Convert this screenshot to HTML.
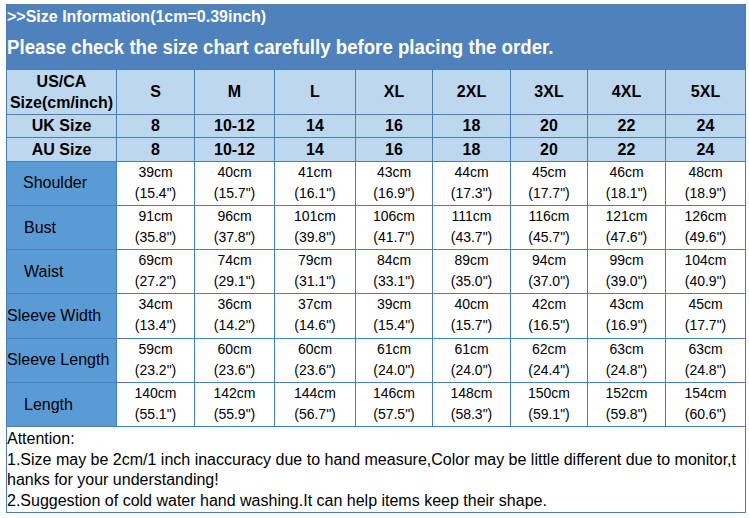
<!DOCTYPE html><html><head><meta charset="utf-8"><style>
*{margin:0;padding:0;box-sizing:border-box}
html,body{width:749px;height:518px;background:#fff;overflow:hidden}
body{position:relative;font-family:"Liberation Sans",sans-serif;color:#000}
.r{position:absolute}
.c{position:absolute;display:flex;align-items:center;justify-content:center;text-align:center;white-space:nowrap}
.b{font-weight:bold;font-size:16px}
.d{font-size:14px;line-height:20.5px;align-items:flex-start}
.l{position:absolute;font-size:16px;white-space:nowrap}
.t{position:absolute;font-size:16px;white-space:nowrap;line-height:20.5px}

</style></head><body>
<div class="r" style="left:6px;top:4px;width:740px;height:66px;background:#4f81bd"></div>
<div class="r b" style="left:7px;top:5px;color:#fff;line-height:24px">&gt;&gt;Size Information(1cm=0.39inch)</div>
<div class="r" style="left:7px;top:35px;color:#fff;font-weight:bold;font-size:18.67px;line-height:24px;transform:scaleY(1.07);transform-origin:0 0">Please check the size chart carefully before placing the order.</div>
<div class="r" style="left:6px;top:70px;width:740px;height:91px;background:#bdd7ee"></div>
<div class="r" style="left:6px;top:161px;width:111px;height:266px;background:#5b9bd5"></div>
<div class="r" style="left:6px;top:114px;width:740px;height:1px;background:#4a7ebb"></div>
<div class="r" style="left:6px;top:137px;width:740px;height:1px;background:#4a7ebb"></div>
<div class="r" style="left:6px;top:161px;width:740px;height:1px;background:#4a7ebb"></div>
<div class="r" style="left:6px;top:205px;width:740px;height:1px;background:#4a7ebb"></div>
<div class="r" style="left:6px;top:249px;width:740px;height:1px;background:#4a7ebb"></div>
<div class="r" style="left:6px;top:293px;width:740px;height:1px;background:#4a7ebb"></div>
<div class="r" style="left:6px;top:338px;width:740px;height:1px;background:#4a7ebb"></div>
<div class="r" style="left:6px;top:382px;width:740px;height:1px;background:#4a7ebb"></div>
<div class="r" style="left:6px;top:426px;width:740px;height:1px;background:#4a7ebb"></div>
<div class="r" style="left:6px;top:69px;width:740px;height:1px;background:#4a7ebb"></div>
<div class="r" style="left:6px;top:512px;width:740px;height:1px;background:#4a7ebb"></div>
<div class="r" style="left:6px;top:4px;width:1px;height:509px;background:#4a7ebb"></div>
<div class="r" style="left:116px;top:70px;width:1px;height:357px;background:#4a7ebb"></div>
<div class="r" style="left:194px;top:70px;width:1px;height:357px;background:#4a7ebb"></div>
<div class="r" style="left:274px;top:70px;width:1px;height:357px;background:#4a7ebb"></div>
<div class="r" style="left:355px;top:70px;width:1px;height:357px;background:#4a7ebb"></div>
<div class="r" style="left:432px;top:70px;width:1px;height:357px;background:#4a7ebb"></div>
<div class="r" style="left:510px;top:70px;width:1px;height:357px;background:#4a7ebb"></div>
<div class="r" style="left:587px;top:70px;width:1px;height:357px;background:#4a7ebb"></div>
<div class="r" style="left:665px;top:70px;width:1px;height:357px;background:#4a7ebb"></div>
<div class="r" style="left:745px;top:4px;width:1px;height:509px;background:#4a7ebb"></div>
<div class="c b" style="left:7px;top:70px;width:109px;height:44px;line-height:21px">US/CA<br>Size(cm/inch)</div>
<div class="c b" style="left:117px;top:70px;width:77px;height:44px;">S</div>
<div class="c b" style="left:195px;top:70px;width:79px;height:44px;">M</div>
<div class="c b" style="left:275px;top:70px;width:80px;height:44px;">L</div>
<div class="c b" style="left:356px;top:70px;width:76px;height:44px;">XL</div>
<div class="c b" style="left:433px;top:70px;width:77px;height:44px;">2XL</div>
<div class="c b" style="left:511px;top:70px;width:76px;height:44px;">3XL</div>
<div class="c b" style="left:588px;top:70px;width:77px;height:44px;">4XL</div>
<div class="c b" style="left:666px;top:70px;width:79px;height:44px;">5XL</div>
<div class="c b" style="left:7px;top:115px;width:109px;height:22px;">UK Size</div>
<div class="c b" style="left:7px;top:138px;width:109px;height:23px;">AU Size</div>
<div class="c b" style="left:117px;top:115px;width:77px;height:22px;">8</div>
<div class="c b" style="left:117px;top:138px;width:77px;height:23px;">8</div>
<div class="c b" style="left:195px;top:115px;width:79px;height:22px;">10-12</div>
<div class="c b" style="left:195px;top:138px;width:79px;height:23px;">10-12</div>
<div class="c b" style="left:275px;top:115px;width:80px;height:22px;">14</div>
<div class="c b" style="left:275px;top:138px;width:80px;height:23px;">14</div>
<div class="c b" style="left:356px;top:115px;width:76px;height:22px;">16</div>
<div class="c b" style="left:356px;top:138px;width:76px;height:23px;">16</div>
<div class="c b" style="left:433px;top:115px;width:77px;height:22px;">18</div>
<div class="c b" style="left:433px;top:138px;width:77px;height:23px;">18</div>
<div class="c b" style="left:511px;top:115px;width:76px;height:22px;">20</div>
<div class="c b" style="left:511px;top:138px;width:76px;height:23px;">20</div>
<div class="c b" style="left:588px;top:115px;width:77px;height:22px;">22</div>
<div class="c b" style="left:588px;top:138px;width:77px;height:23px;">22</div>
<div class="c b" style="left:666px;top:115px;width:79px;height:22px;">24</div>
<div class="c b" style="left:666px;top:138px;width:79px;height:23px;">24</div>
<div class="l" style="left:23px;top:161px;height:43px;line-height:43px">Shoulder</div>
<div class="c d" style="left:117px;top:162px;width:77px;height:43px;">39cm<br>(15.4&quot;)</div>
<div class="c d" style="left:195px;top:162px;width:79px;height:43px;">40cm<br>(15.7&quot;)</div>
<div class="c d" style="left:275px;top:162px;width:80px;height:43px;">41cm<br>(16.1&quot;)</div>
<div class="c d" style="left:356px;top:162px;width:76px;height:43px;">43cm<br>(16.9&quot;)</div>
<div class="c d" style="left:433px;top:162px;width:77px;height:43px;">44cm<br>(17.3&quot;)</div>
<div class="c d" style="left:511px;top:162px;width:76px;height:43px;">45cm<br>(17.7&quot;)</div>
<div class="c d" style="left:588px;top:162px;width:77px;height:43px;">46cm<br>(18.1&quot;)</div>
<div class="c d" style="left:666px;top:162px;width:79px;height:43px;">48cm<br>(18.9&quot;)</div>
<div class="l" style="left:24px;top:206px;height:43px;line-height:43px">Bust</div>
<div class="c d" style="left:117px;top:206px;width:77px;height:43px;">91cm<br>(35.8&quot;)</div>
<div class="c d" style="left:195px;top:206px;width:79px;height:43px;">96cm<br>(37.8&quot;)</div>
<div class="c d" style="left:275px;top:206px;width:80px;height:43px;">101cm<br>(39.8&quot;)</div>
<div class="c d" style="left:356px;top:206px;width:76px;height:43px;">106cm<br>(41.7&quot;)</div>
<div class="c d" style="left:433px;top:206px;width:77px;height:43px;">111cm<br>(43.7&quot;)</div>
<div class="c d" style="left:511px;top:206px;width:76px;height:43px;">116cm<br>(45.7&quot;)</div>
<div class="c d" style="left:588px;top:206px;width:77px;height:43px;">121cm<br>(47.6&quot;)</div>
<div class="c d" style="left:666px;top:206px;width:79px;height:43px;">126cm<br>(49.6&quot;)</div>
<div class="l" style="left:24px;top:250px;height:43px;line-height:43px">Waist</div>
<div class="c d" style="left:117px;top:250px;width:77px;height:43px;">69cm<br>(27.2&quot;)</div>
<div class="c d" style="left:195px;top:250px;width:79px;height:43px;">74cm<br>(29.1&quot;)</div>
<div class="c d" style="left:275px;top:250px;width:80px;height:43px;">79cm<br>(31.1&quot;)</div>
<div class="c d" style="left:356px;top:250px;width:76px;height:43px;">84cm<br>(33.1&quot;)</div>
<div class="c d" style="left:433px;top:250px;width:77px;height:43px;">89cm<br>(35.0&quot;)</div>
<div class="c d" style="left:511px;top:250px;width:76px;height:43px;">94cm<br>(37.0&quot;)</div>
<div class="c d" style="left:588px;top:250px;width:77px;height:43px;">99cm<br>(39.0&quot;)</div>
<div class="c d" style="left:666px;top:250px;width:79px;height:43px;">104cm<br>(40.9&quot;)</div>
<div class="l" style="left:7px;top:294px;height:44px;line-height:44px">Sleeve Width</div>
<div class="c d" style="left:117px;top:294px;width:77px;height:44px;">34cm<br>(13.4&quot;)</div>
<div class="c d" style="left:195px;top:294px;width:79px;height:44px;">36cm<br>(14.2&quot;)</div>
<div class="c d" style="left:275px;top:294px;width:80px;height:44px;">37cm<br>(14.6&quot;)</div>
<div class="c d" style="left:356px;top:294px;width:76px;height:44px;">39cm<br>(15.4&quot;)</div>
<div class="c d" style="left:433px;top:294px;width:77px;height:44px;">40cm<br>(15.7&quot;)</div>
<div class="c d" style="left:511px;top:294px;width:76px;height:44px;">42cm<br>(16.5&quot;)</div>
<div class="c d" style="left:588px;top:294px;width:77px;height:44px;">43cm<br>(16.9&quot;)</div>
<div class="c d" style="left:666px;top:294px;width:79px;height:44px;">45cm<br>(17.7&quot;)</div>
<div class="l" style="left:7px;top:338px;height:43px;line-height:43px">Sleeve Length</div>
<div class="c d" style="left:117px;top:339px;width:77px;height:43px;">59cm<br>(23.2&quot;)</div>
<div class="c d" style="left:195px;top:339px;width:79px;height:43px;">60cm<br>(23.6&quot;)</div>
<div class="c d" style="left:275px;top:339px;width:80px;height:43px;">60cm<br>(23.6&quot;)</div>
<div class="c d" style="left:356px;top:339px;width:76px;height:43px;">61cm<br>(24.0&quot;)</div>
<div class="c d" style="left:433px;top:339px;width:77px;height:43px;">61cm<br>(24.0&quot;)</div>
<div class="c d" style="left:511px;top:339px;width:76px;height:43px;">62cm<br>(24.4&quot;)</div>
<div class="c d" style="left:588px;top:339px;width:77px;height:43px;">63cm<br>(24.8&quot;)</div>
<div class="c d" style="left:666px;top:339px;width:79px;height:43px;">63cm<br>(24.8&quot;)</div>
<div class="l" style="left:24px;top:383px;height:43px;line-height:43px">Length</div>
<div class="c d" style="left:117px;top:383px;width:77px;height:43px;">140cm<br>(55.1&quot;)</div>
<div class="c d" style="left:195px;top:383px;width:79px;height:43px;">142cm<br>(55.9&quot;)</div>
<div class="c d" style="left:275px;top:383px;width:80px;height:43px;">144cm<br>(56.7&quot;)</div>
<div class="c d" style="left:356px;top:383px;width:76px;height:43px;">146cm<br>(57.5&quot;)</div>
<div class="c d" style="left:433px;top:383px;width:77px;height:43px;">148cm<br>(58.3&quot;)</div>
<div class="c d" style="left:511px;top:383px;width:76px;height:43px;">150cm<br>(59.1&quot;)</div>
<div class="c d" style="left:588px;top:383px;width:77px;height:43px;">152cm<br>(59.8&quot;)</div>
<div class="c d" style="left:666px;top:383px;width:79px;height:43px;">154cm<br>(60.6&quot;)</div>
<div class="t" style="left:7px;top:429px">Attention:<br>1.Size may be 2cm/1 inch inaccuracy due to hand measure,Color may be little different due to monitor,t<br>hanks for your understanding!<br>2.Suggestion of cold water hand washing.It can help items keep their shape.</div>
</body></html>
